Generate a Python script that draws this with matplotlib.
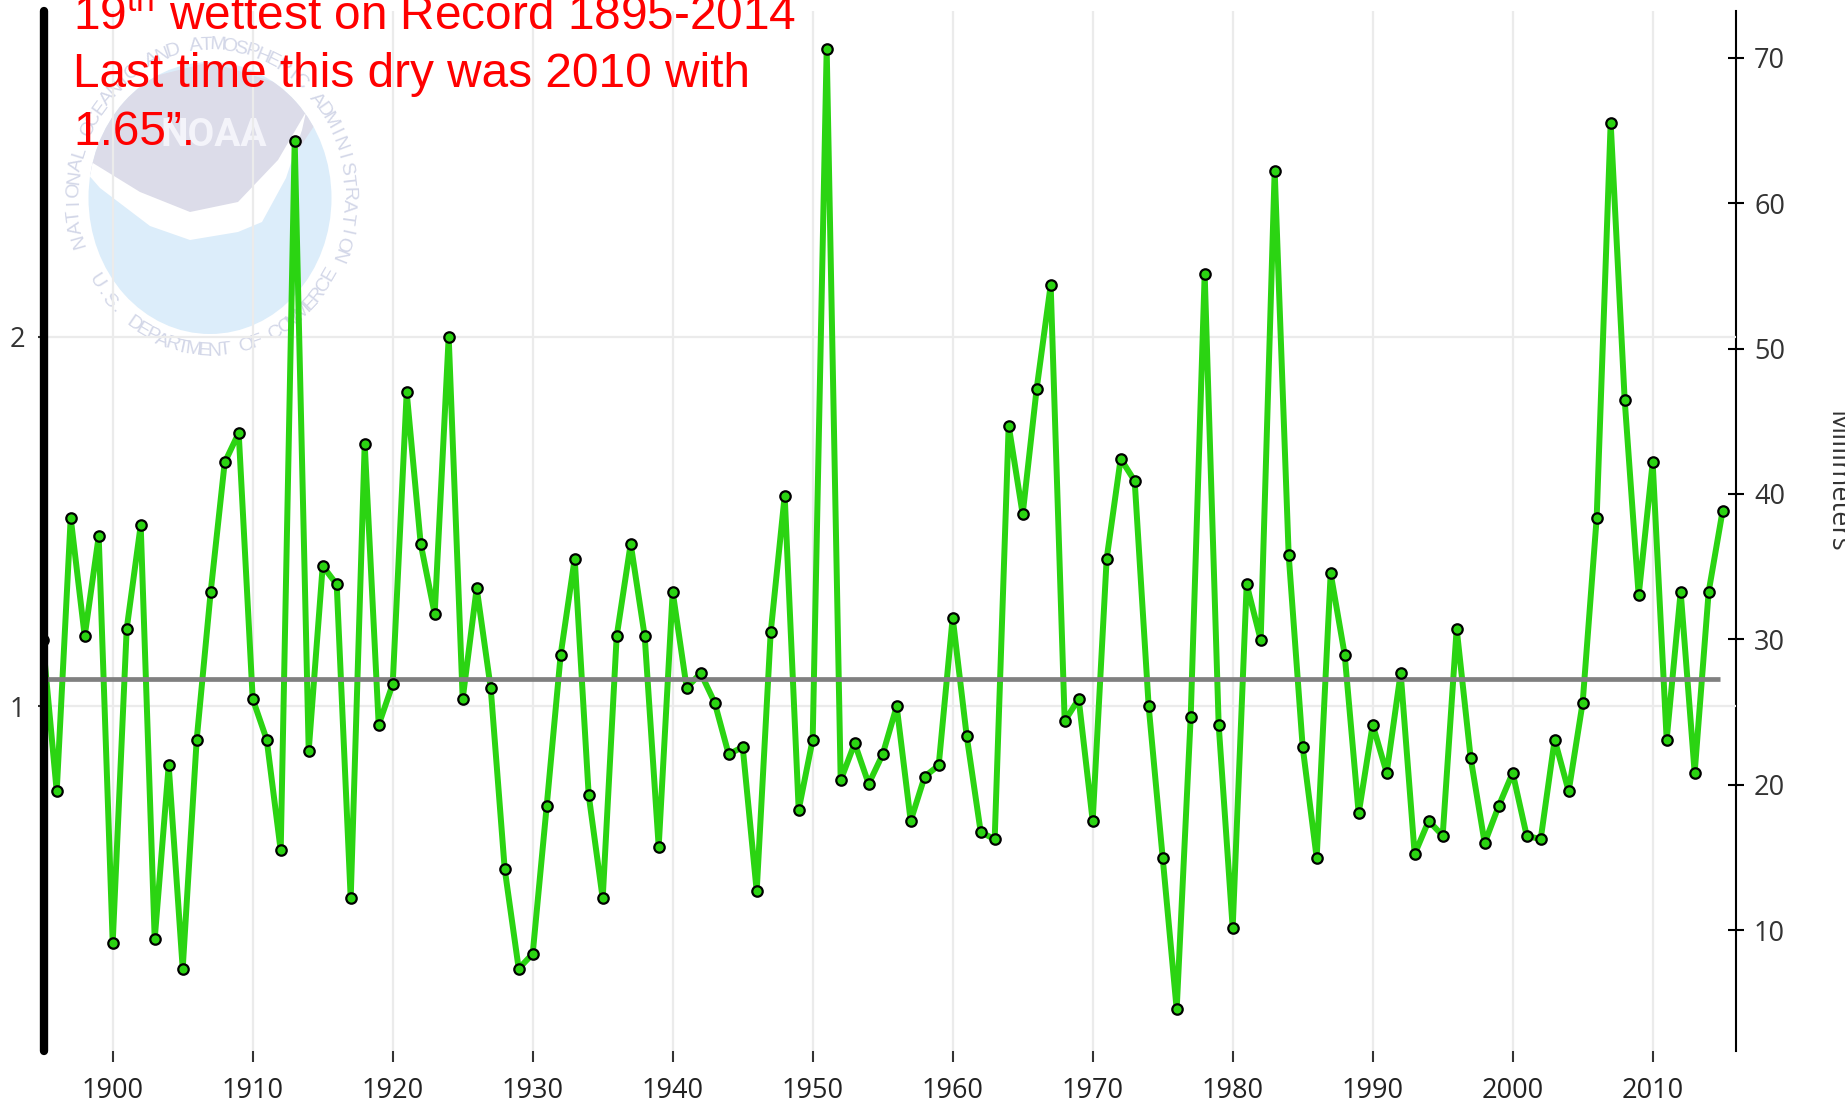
import numpy as np
import matplotlib
matplotlib.use('Agg')
from matplotlib import pyplot as plt
from matplotlib.patches import Ellipse, Polygon

plt.rcParams['font.family'] = ['Open Sans', 'DejaVu Sans']
plt.rcParams['mathtext.fontset'] = 'custom'
plt.rcParams['mathtext.rm'] = 'Liberation Sans'

years = list(range(1895, 2016))
precip_in = [
    1.18, 0.77, 1.51, 1.19, 1.46, 0.36, 1.21, 1.49, 0.37, 0.84,
    0.29, 0.91, 1.31, 1.66, 1.74, 1.02, 0.91, 0.61, 2.53, 0.88,
    1.38, 1.33, 0.48, 1.71, 0.95, 1.06, 1.85, 1.44, 1.25, 2.00,
    1.02, 1.32, 1.05, 0.56, 0.29, 0.33, 0.73, 1.14, 1.40, 0.76,
    0.48, 1.19, 1.44, 1.19, 0.62, 1.31, 1.05, 1.09, 1.01, 0.87,
    0.89, 0.50, 1.20, 1.57, 0.72, 0.91, 2.78, 0.80, 0.90, 0.79,
    0.87, 1.00, 0.69, 0.81, 0.84, 1.24, 0.92, 0.66, 0.64, 1.76,
    1.52, 1.86, 2.14, 0.96, 1.02, 0.69, 1.40, 1.67, 1.61, 1.00,
    0.59, 0.18, 0.97, 2.17, 0.95, 0.40, 1.33, 1.18, 2.45, 1.41,
    0.89, 0.59, 1.36, 1.14, 0.71, 0.95, 0.82, 1.09, 0.60, 0.69,
    0.65, 1.21, 0.86, 0.63, 0.73, 0.82, 0.65, 0.64, 0.91, 0.77,
    1.01, 1.51, 2.58, 1.83, 1.30, 1.66, 0.91, 1.31, 0.82, 1.31,
    1.53,
]
mean_in = 1.075
decade_ticks = list(range(1900, 2011, 10))
inch_ticks = [1, 2]
mm_ticks = [10, 20, 30, 40, 50, 60, 70]
note_lines = [
    r'19$^{\rm th}$ wettest on Record 1895-2014',
    'Last time this dry was 2010 with',
    '1.65\u201d.',
]

green = '#2bd412'
tick_col = '#333333'

fig = plt.figure(figsize=(18.45, 11.04), dpi=100)

# faint NOAA watermark, drawn in figure pixels
bg = fig.add_axes([0, 0, 1, 1], zorder=0)
bg.set_xlim(0, 1845)
bg.set_ylim(1104, 0)
bg.axis('off')
disc = Ellipse((210, 198), 243, 272, fc='#dcedfa', ec='none')
bg.add_patch(disc)
top = Polygon([(80, 150), (120, 85), (210, 62), (300, 90), (318, 120), (285, 170),
               (255, 215), (215, 228), (175, 220), (140, 200), (100, 178), (80, 170)],
              fc='#dcdce9', ec='none')
bg.add_patch(top)
top.set_clip_path(disc)
bird = Polygon([(88, 160), (140, 192), (190, 212), (238, 202), (278, 160), (306, 112),
                (302, 130), (286, 178), (262, 222), (238, 232), (190, 240), (150, 226),
                (100, 188), (86, 172)], fc='white', ec='none')
bg.add_patch(bird)
bird.set_clip_path(disc)
bg.text(214, 136, 'NOAA', color='#f4f4fa', fontsize=28, fontweight='bold',
        ha='center', va='center', family='Roboto')


def arc_text(s, cx, cy, rx, ry, a0, a1, upper):
    for ch, a in zip(s, np.linspace(a0, a1, len(s))):
        t = np.radians(a)
        rot = a - 90 if upper else a + 90
        bg.text(cx + rx * np.cos(t), cy - ry * np.sin(t), ch, rotation=rot,
                rotation_mode='anchor', ha='center', va='center',
                fontsize=14, color='#d3d7e8', family='Liberation Sans')


arc_text('NATIONAL OCEANIC AND ATMOSPHERIC ADMINISTRATION', 211, 198, 137, 153, 196, -22, True)
arc_text('U.S. DEPARTMENT OF COMMERCE', 211, 198, 137, 153, 213, 330, False)

ax = fig.add_axes([0.0236, 0.048, 0.9173, 0.942], zorder=1)
ax.patch.set_alpha(0)

ax.plot(years, precip_in, color=green, lw=4.3, zorder=2, solid_joinstyle='round')
ax.hlines(mean_in, years[0], years[-1] - 0.2, color='#808080', lw=3.4, zorder=2.2)
ax.plot(years, precip_in, ls='none', marker='o', ms=7.5, mfc=green, mec='black',
        mew=1.6, zorder=2.4)

ax.set_xlim(1895.06, 2015.95)
ax.set_ylim(0.067, 2.882)
ax.set_xticks(decade_ticks)
ax.set_yticks(inch_ticks)
ax.grid(True, color='#ebebeb', lw=1.6, zorder=0)
ax.set_axisbelow(True)

ax.spines['top'].set_visible(False)
ax.spines['bottom'].set_visible(False)
ax.spines['right'].set_visible(False)
ax.spines['left'].set_linewidth(6)
ax.spines['left'].set_color('black')
ax.spines['left'].set_capstyle('round')
ax.spines['left'].set_zorder(3)

ax.tick_params(axis='x', direction='out', length=8, width=1.5, color=tick_col,
               labelsize=19.5, labelcolor='#222222', pad=11)
ax.tick_params(axis='y', direction='out', length=4, width=1.5, color=tick_col,
               labelsize=19.5, labelcolor=tick_col, pad=9)

sec = ax.secondary_yaxis('right', functions=(lambda v: v * 25.4, lambda v: v / 25.4))
sec.set_yticks(mm_ticks)
sec.spines['right'].set_linewidth(1.5)
sec.spines['right'].set_color('black')
sec.tick_params(axis='y', direction='inout', length=12, width=1.5, color='black',
                labelsize=19.5, labelcolor=tick_col, pad=7)

fig.text(1836 / 1845, 1 - 482 / 1104, 'Millimeters', rotation=270, ha='center',
         va='center', fontsize=19.5, color=tick_col)

for i, line in enumerate(note_lines):
    fig.text(73 / 1845, 1 - (30 + 57.3 * i) / 1104, line, color='#ff0000',
             fontsize=34.4, family='Liberation Sans', va='baseline', ha='left', zorder=5)

fig.savefig('out.png', dpi=100)
